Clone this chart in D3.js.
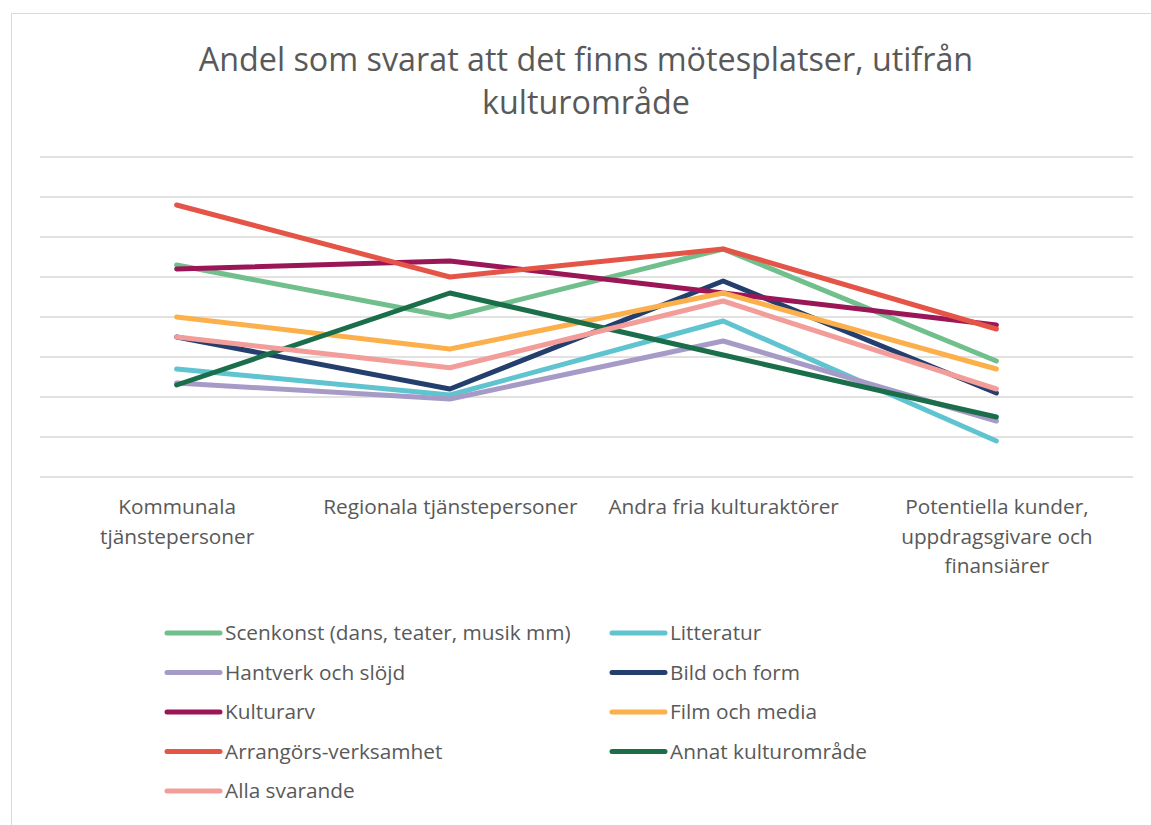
<!DOCTYPE html>
<html>
<head>
<meta charset="utf-8">
<script src="https://cdn.jsdelivr.net/npm/d3@7"></script>
<style>
  body { margin: 0; background: #fff; }
  svg text { font-family: "Open Sans", "Noto Sans", sans-serif; fill: #595959; }
</style>
</head>
<body>
<svg id="chart" width="1151" height="825"></svg>
<script>
// Kategorier på x-axeln (radbrytningar som i originalet)
const categories = ["Kommunala", "Regionala", "Andra", "Potentiella"];
const categoryLabels = [
    ["Kommunala", "tjänstepersoner"],
    ["Regionala tjänstepersoner"],
    ["Andra fria kulturaktörer"],
    ["Potentiella kunder,", "uppdragsgivare och", "finansiärer"]
];

// Serier (andel i %)
const seriesNames = [
    "Scenkonst (dans, teater, musik mm)", "Litteratur",
    "Hantverk och slöjd", "Bild och form",
    "Kulturarv", "Film och media",
    "Arrangörs-verksamhet", "Annat kulturområde",
    "Alla svarande"
];
const scenkonst   = [53, 40, 57, 29];
const litteratur  = [27, 20.5, 39, 9];
const hantverk    = [23.5, 19.5, 34, 14];
const bildForm    = [35, 22, 49, 21];
const kulturarv   = [52, 54, 46, 38];
const filmMedia   = [40, 32, 46, 27];
const arrangor    = [68, 50, 57, 37];
const annat       = [23, 46, 30.5, 15];
const alla        = [35, 27.3, 44, 22];
const seriesValues = [scenkonst, litteratur, hantverk, bildForm, kulturarv, filmMedia, arrangor, annat, alla];
const seriesColors = ["#70bf8c", "#5fc4d0", "#a69bc7", "#243f6e", "#9b1657", "#fbb04b", "#e45447", "#1b6e4a", "#f29d9a"];
const yTicks = [0, 10, 20, 30, 40, 50, 60, 70, 80];

const svg = d3.select("#chart");

// Ram runt diagrammet
svg.append("rect")
    .attr("x", 11.5).attr("y", 13.5)
    .attr("width", 1160).attr("height", 830)
    .attr("fill", "none")
    .attr("stroke", "#d9d9d9")
    .attr("stroke-width", 1);

// Titel
const title = svg.append("text")
    .attr("x", 586)
    .attr("text-anchor", "middle")
    .style("font-size", "32.3px");
title.append("tspan").attr("x", 586).attr("y", 71).text("Andel som svarat att det finns mötesplatser, utifrån");
title.append("tspan").attr("x", 586).attr("y", 114).text("kulturområde");

// Skalor
const x = d3.scalePoint()
    .domain(categories)
    .range([40, 1133])
    .padding(0.5);

const y = d3.scaleLinear()
    .domain([0, 80])
    .range([477, 157]);

// Stödlinjer
svg.append("g")
    .selectAll("line")
    .data(yTicks)
    .join("line")
        .attr("x1", 40).attr("x2", 1133)
        .attr("y1", d => y(d)).attr("y2", d => y(d))
        .attr("stroke", "#d9d9d9")
        .attr("stroke-width", 1.3);

// X-axelns etiketter
const xAxis = d3.axisBottom(x).tickSize(0).tickFormat("");
const gx = svg.append("g")
    .attr("transform", `translate(0,477)`)
    .call(xAxis);
gx.select(".domain").remove();
gx.selectAll(".tick").each(function(d, i) {
    const t = d3.select(this).append("text")
        .attr("text-anchor", "middle")
        .style("font-size", "20.8px");
    categoryLabels[i].forEach((line, j) => {
        t.append("tspan").attr("x", 0).attr("y", 37 + j * 29.5).text(line);
    });
});

// Linjer
const line = d3.line()
    .x((d, i) => x(categories[i]))
    .y(d => y(d));

svg.append("g")
    .selectAll("path")
    .data(seriesValues)
    .join("path")
        .attr("d", d => line(d))
        .attr("fill", "none")
        .attr("stroke", (d, i) => seriesColors[i])
        .attr("stroke-width", 5)
        .attr("stroke-linecap", "round")
        .attr("stroke-linejoin", "round");

// Förklaring
const legend = svg.append("g");
const items = legend.selectAll("g")
    .data(seriesNames)
    .join("g")
        .attr("transform", (d, i) => `translate(${i % 2 === 0 ? 167 : 612},${633 + Math.floor(i / 2) * 39.5})`);
items.append("line")
    .attr("x1", 0).attr("x2", 53)
    .attr("y1", 0).attr("y2", 0)
    .attr("stroke", (d, i) => seriesColors[i])
    .attr("stroke-width", 5)
    .attr("stroke-linecap", "round");
items.append("text")
    .attr("x", 58)
    .attr("y", 7)
    .style("font-size", "20.8px")
    .text(d => d);
</script>
</body>
</html>
